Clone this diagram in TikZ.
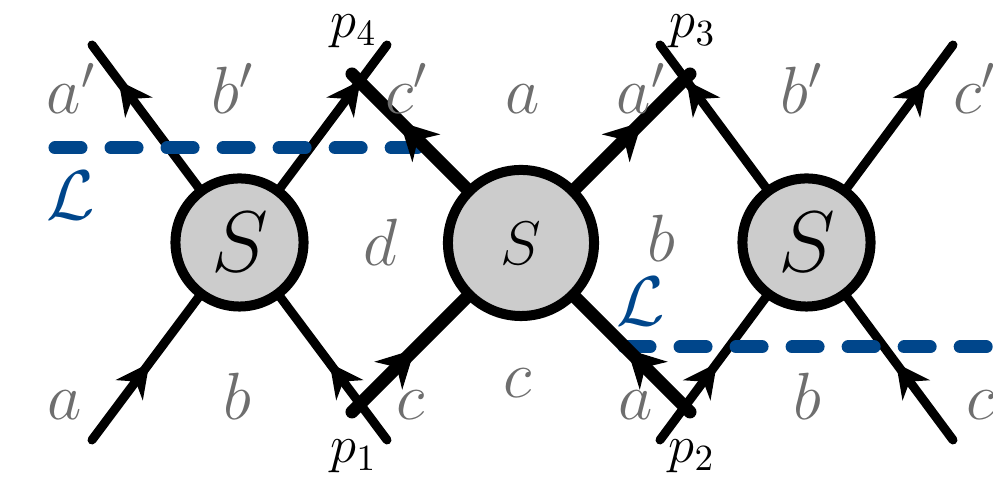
\documentclass[tikz,border=0pt]{standalone}
\usepackage{fix-cm}
\usetikzlibrary{arrows.meta,decorations.markings}
\definecolor{lblgray}{RGB}{110,110,110}
\definecolor{cutblue}{RGB}{0,70,139}
\definecolor{blobgray}{RGB}{204,204,204}
\tikzset{
  thinhead/.tip={Stealth[length=9.5pt,width=9.5pt,inset=3pt]},
  thickhead/.tip={Stealth[length=10.5pt,width=11pt,inset=3.3pt]},
  blob/.style={circle,draw=black,fill=blobgray,line width=0.1cm,inner sep=0pt},
  smallblob/.style={blob,minimum size=1.28cm,font=\fontsize{24.5}{28}\selectfont},
  bigblob/.style={blob,minimum size=1.46cm,font=\fontsize{17.5}{20}\selectfont},
  thinleg/.style={line width=0.09cm,line cap=round},
  thickleg/.style={line width=0.13cm,line cap=round},
  outthin/.style={postaction={decorate,decoration={markings,mark=at position #1 with {\arrow{thinhead}}}}},
  inthin/.style={postaction={decorate,decoration={markings,mark=at position #1 with {\arrowreversed{thinhead}}}}},
  outthick/.style={postaction={decorate,decoration={markings,mark=at position #1 with {\arrow{thickhead}}}}},
  inthick/.style={postaction={decorate,decoration={markings,mark=at position #1 with {\arrowreversed{thickhead}}}}},
  cutline/.style={cutblue,line width=0.13cm,line cap=round,dash pattern=on 0.26cm off 0.30cm},
  lbl/.style={lblgray,anchor=base west,inner sep=0pt,font=\fontsize{19}{22}\selectfont},
  plbl/.style={black,anchor=base west,inner sep=0pt,font=\fontsize{15}{18}\selectfont},
  cutlbl/.style={cutblue,anchor=base west,inner sep=0pt,font=\fontsize{20}{24}\selectfont},
}
\begin{document}
\begin{tikzpicture}[x=0.01cm,y=-0.01cm]
\useasboundingbox (0,0) rectangle (993,477);
% vertices
\node[smallblob] (s1) at (239.5,242.5) {$S$};
\node[bigblob]   (s2) at (521,243)     {$S$};
\node[smallblob] (s3) at (806.5,242.5) {$S$};
% free ends
\coordinate (ul1) at (92,45);
\coordinate (ur1) at (387,45);
\coordinate (ll1) at (92,440);
\coordinate (lr1) at (387,440);
\coordinate (ul3) at (660,45);
\coordinate (ur3) at (953,45);
\coordinate (ll3) at (660,440);
\coordinate (lr3) at (953,440);
\coordinate (e4) at (352,74);
\coordinate (e3) at (690,74);
\coordinate (e1) at (352,412);
\coordinate (e2) at (690,412);
\coordinate (cutAa) at (55,148);
\coordinate (cutAb) at (426,148);
\coordinate (cutBa) at (624,347);
\coordinate (cutBb) at (1005,347);
% thin legs
\draw[thinleg,outthin=0.75] (s1) -- (ul1);
\draw[thinleg,outthin=0.75] (s1) -- (ur1);
\draw[thinleg,inthin=0.46] (s1) -- (ll1);
\draw[thinleg,inthin=0.46] (s1) -- (lr1);
\draw[thinleg,outthin=0.75] (s3) -- (ul3);
\draw[thinleg,outthin=0.75] (s3) -- (ur3);
\draw[thinleg,inthin=0.46] (s3) -- (ll3);
\draw[thinleg,inthin=0.46] (s3) -- (lr3);
% cuts
\draw[cutline] (cutAa) -- (cutAb);
\draw[cutline] (cutBa) -- (cutBb);
% thick legs
\draw[thickleg,outthick=0.58] (s2) -- (e4);
\draw[thickleg,outthick=0.58] (s2) -- (e3);
\draw[thickleg,inthick=0.45] (s2) -- (e1);
\draw[thickleg,inthick=0.45] (s2) -- (e2);
% momentum labels
\node[plbl] (p4) at (330,38) {$p_4$};
\node[plbl] (p3) at (669,38) {$p_3$};
\node[plbl] (p1) at (330,463) {$p_1$};
\node[plbl] (p2) at (668,463) {$p_2$};
% cut labels
\node[cutlbl] (L1) at (46,220) {$\mathcal{L}$};
\node[cutlbl] (L2) at (616,326) {$\mathcal{L}$};
% colour labels, top row
\node[lbl] (t1) at (46,114)  {$a'$};
\node[lbl] (t2) at (211,114) {$b'$};
\node[lbl] (t3) at (385,114) {$c'$};
\node[lbl] (t4) at (505,114) {$a$};
\node[lbl] (t5) at (616,114) {$a'$};
\node[lbl] (t6) at (780,114) {$b'$};
\node[lbl] (t7) at (953,114) {$c'$};
% middle
\node[lbl] (m1) at (363,266) {$d$};
\node[lbl] (m2) at (647,262) {$b$};
\node[lbl] (m3) at (503,398) {$c$};
% bottom row
\node[lbl] (b1) at (47,420)  {$a$};
\node[lbl] (b2) at (223,420) {$b$};
\node[lbl] (b3) at (396,420) {$c$};
\node[lbl] (b4) at (618,420) {$a$};
\node[lbl] (b5) at (793,420) {$b$};
\node[lbl] (b6) at (966,420) {$c$};
\end{tikzpicture}
\end{document}
